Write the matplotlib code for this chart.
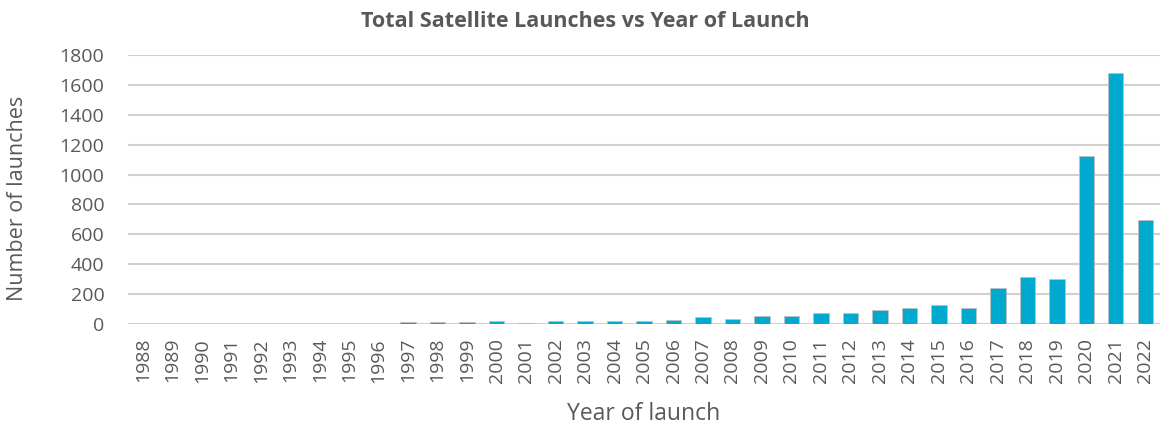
import matplotlib.pyplot as plt
import numpy as np

years = [str(y) for y in range(1988, 2023)]
launches = [0, 0, 0, 0, 0, 0, 0, 0, 0,
            12, 12, 12, 18, 9, 18, 18, 18, 18, 27,
            45, 36, 54, 54, 72, 74, 94, 108, 128, 108,
            238, 315, 299, 1121, 1680, 697]

plt.rcParams['font.family'] = ['Open Sans', 'DejaVu Sans']
grey = '#595959'

fig = plt.figure(figsize=(11.64, 4.28), dpi=100)
ax = fig.add_axes([0.110, 0.243, 0.8866, 0.6285])

x = np.arange(len(years))
ax.bar(x, launches, width=0.52, color='#00A9CE', edgecolor='#BFBFBF', linewidth=0.6, zorder=3)

ax.set_ylim(0, 1800)
ax.set_yticks(range(0, 1801, 200))
ax.set_xlim(-0.5, len(years) - 0.5)
ax.set_xticks(x)
ax.set_xticklabels(years, rotation=90)
ax.tick_params(axis='both', length=0, colors=grey, labelsize=14)
ax.tick_params(axis='x', pad=10)
ax.tick_params(axis='y', pad=17)
ax.grid(axis='y', color='#D0D0D0', linewidth=1.5, zorder=0)
for s in ax.spines.values():
    s.set_visible(False)

fig.text(0.503, 0.949, 'Total Satellite Launches vs Year of Launch', fontsize=15.5,
         fontweight='bold', color=grey, ha='center', va='center')
ax.set_xlabel('Year of launch', fontsize=16.5, color=grey)
ax.set_ylabel('Number of launches', fontsize=15.5, color=grey)
ax.xaxis.set_label_coords(0.5, -0.29)
ax.yaxis.set_label_coords(-0.097, 0.468)

fig.savefig('out.png', dpi=100)
